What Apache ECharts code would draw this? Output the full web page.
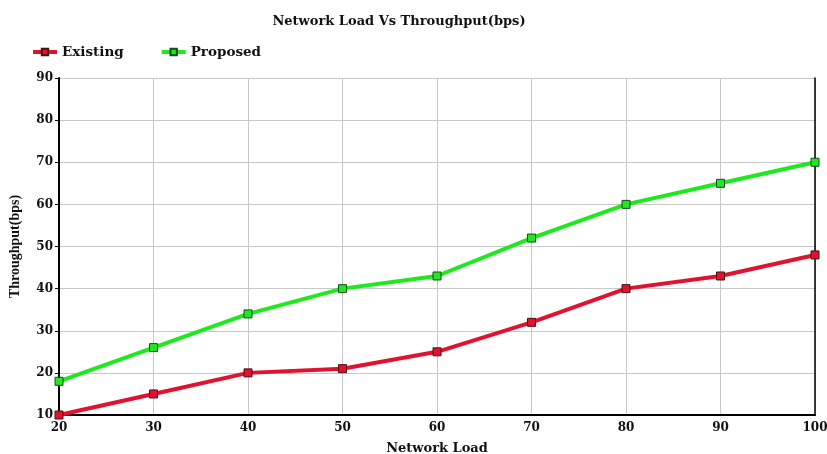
<!DOCTYPE html>
<html><head><meta charset="utf-8">
<script src="https://cdn.jsdelivr.net/npm/echarts@6/dist/echarts.min.js"></script>
<style>html,body{margin:0;padding:0;background:#fff}#c{width:827px;height:454px}</style>
</head><body><div id="c"></div>
<script>
const categories = [20, 30, 40, 50, 60, 70, 80, 90, 100];
const existing = [10, 15, 20, 21, 25, 32, 40, 43, 48];
const proposed = [18, 26, 34, 40, 43, 52, 60, 65, 70];
const yTicks = [10, 20, 30, 40, 50, 60, 70, 80, 90];

const FONT = '"DejaVu Serif", serif';
const NFONT = '"Liberation Serif", serif';
const chart = echarts.init(document.getElementById('c'));
const mk = (arr) => arr.map((v, i) => [categories[i], v]);
chart.setOption({
  animation: false,
  backgroundColor: '#fff',
  title: {
    text: 'Network Load Vs Throughput(bps)',
    left: 394, top: 10, textAlign: 'center',
    textStyle: { fontFamily: FONT, fontWeight: 'bold', fontSize: 13, color: '#111' }
  },
  legend: {
    left: 26, top: 40,
    itemWidth: 24, itemHeight: 8, itemGap: 36,
    lineStyle: { width: 4 },
    textStyle: { fontFamily: FONT, fontWeight: 'bold', fontSize: 13.5, color: '#111' },
    data: ['Existing', 'Proposed']
  },
  grid: { left: 59, right: 12, top: 78, bottom: 39, containLabel: false, outerBoundsMode: 'none' },
  xAxis: {
    type: 'value', min: 20, max: 100, interval: 10,
    name: 'Network Load', nameLocation: 'middle', nameGap: 27,
    nameTextStyle: { fontFamily: FONT, fontWeight: 'bold', fontSize: 13, color: '#111' },
    axisLine: { lineStyle: { color: '#000', width: 2 } },
    axisTick: { show: false },
    axisLabel: { fontFamily: FONT, fontWeight: 'bold', fontSize: 12, color: '#111', margin: 7 },
    splitLine: { show: true, lineStyle: { color: '#c8c8c8', width: 1 } }
  },
  yAxis: [{
    type: 'value', min: 10, max: 90, interval: 10,
    name: 'Throughput(bps)', nameLocation: 'middle', nameGap: 37,
    nameTextStyle: { fontFamily: NFONT, fontWeight: 'bold', fontSize: 14, color: '#111' },
    axisLine: { show: true, lineStyle: { color: '#000', width: 2 } },
    axisTick: { show: true, length: 4, lineStyle: { color: '#000' } },
    axisLabel: { fontFamily: FONT, fontWeight: 'bold', fontSize: 12, color: '#111', margin: 6,
      formatter: (v) => yTicks.includes(v) ? String(v) : '' },
    splitLine: { show: true, lineStyle: { color: '#c8c8c8', width: 1 } }
  }, {
    type: 'value', min: 10, max: 90, interval: 10, position: 'right',
    axisLine: { show: true, lineStyle: { color: '#000', width: 1.5 } },
    axisTick: { show: false }, axisLabel: { show: false }, splitLine: { show: false }
  }],
  series: [{
    name: 'Existing', type: 'line', data: mk(existing),
    symbol: 'rect', symbolSize: 8,
    lineStyle: { color: '#e0122f', width: 4 },
    itemStyle: { color: '#e0122f', borderColor: '#4a1010', borderWidth: 1 },
    z: 3
  }, {
    name: 'Proposed', type: 'line', data: mk(proposed),
    symbol: 'rect', symbolSize: 8,
    lineStyle: { color: '#1ee81e', width: 4 },
    itemStyle: { color: '#1ee81e', borderColor: '#1a4a1a', borderWidth: 1 },
    z: 3
  }]
});
</script></body></html>
